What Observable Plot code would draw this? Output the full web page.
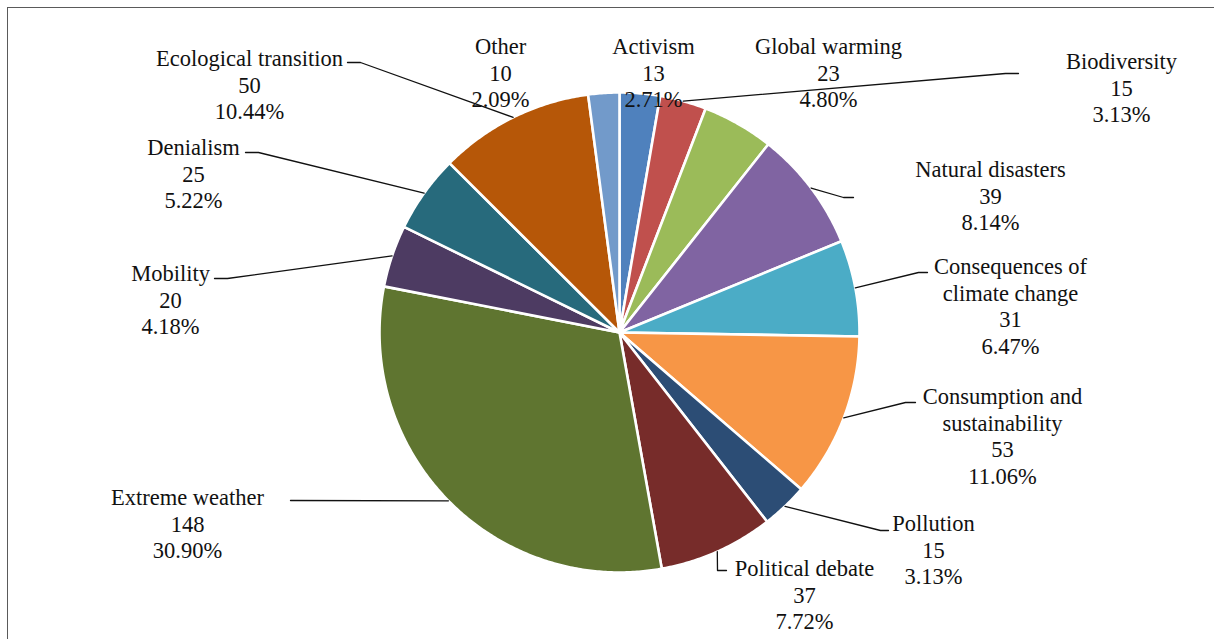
<!DOCTYPE html>
<html><head><meta charset="utf-8">
<script src="https://cdn.jsdelivr.net/npm/d3@7"></script>
<script src="https://cdn.jsdelivr.net/npm/@observablehq/plot@0.6"></script>
<style>
html,body{margin:0;padding:0;background:#fff;overflow:hidden;}
#wrap{position:relative;width:1214px;height:639px;overflow:hidden;}
#border{position:absolute;left:7px;top:7px;width:1240px;height:680px;border:1.5px solid #5a5a5a;pointer-events:none;}
#chart svg text {font-family:"Liberation Serif","Tinos","Noto Serif","FreeSerif","Nimbus Roman","Nimbus Roman No9 L","DejaVu Serif","Times",serif !important;}
</style></head><body>
<div id="wrap"><div id="chart"></div><div id="border"></div></div>
<script>
// ---- data ----
const categories = ["Activism","Biodiversity","Global warming","Natural disasters","Consequences of climate change","Consumption and sustainability","Pollution","Political debate","Extreme weather","Mobility","Denialism","Ecological transition","Other"];
const counts = [13,15,23,39,31,53,15,37,148,20,25,50,10];
const labelNames = ["Activism","Biodiversity","Global warming","Natural disasters","Consequences of\nclimate change","Consumption and\nsustainability","Pollution","Political debate","Extreme weather","Mobility","Denialism","Ecological transition","Other"];
const colors = ["#4F81BD","#C0504D","#9BBB59","#8064A2","#4BACC6","#F79646","#2C4D75","#772C2A","#5F7530","#4D3B62","#276A7C","#B65708","#729ACA"];

// ---- layout (pixel-like plot coordinates) ----
const CX = 619, CY = 332, R = 240;
const FONT = 22.5, LH = 1.18;
// label centre x, first-line centre y, leader-line bend/end points
const labelX = [653, 1121, 828, 990, 1010, 1002, 933, 804, 187, 170, 193, 249, 500];
const labelY = [45, 60, 45, 168, 265, 395, 522, 567, 496, 272, 146, 57, 45];
const leaderPts = [
  null,
  [[1005,73],[1018,73]],
  null,
  [[843,197],[853,197]],
  [[918,272],[927,272]],
  [[905,402],[915,402]],
  [[880,530],[888,530]],
  [[717,570],[726,570]],
  [[290,500]],
  [[227,278],[214,278]],
  [[258,152],[245,152]],
  [[360,62],[347,62]],
  null
];

const total = d3.sum(counts);
const rad = d => d * Math.PI / 180;
const px = a => CX + R * Math.sin(a);
const py = a => CY - R * Math.cos(a);

// slice polygons
const slicePts = [];
let cum = 0;
const mids = [];
categories.forEach((c, i) => {
  const a0 = cum / total * 2 * Math.PI;
  cum += counts[i];
  const a1 = cum / total * 2 * Math.PI;
  mids.push((a0 + a1) / 2);
  const n = Math.max(2, Math.ceil((a1 - a0) / rad(0.5)));
  slicePts.push({cat: c, x: CX, y: CY});
  for (let k = 0; k <= n; k++) {
    const a = a0 + (a1 - a0) * k / n;
    slicePts.push({cat: c, x: px(a), y: py(a)});
  }
  slicePts.push({cat: c, x: CX, y: CY});
});

// leader lines
const leaders = [];
categories.forEach((c, i) => {
  if (!leaderPts[i]) return;
  leaders.push({cat: c, x: px(mids[i]), y: py(mids[i])});
  leaderPts[i].forEach(([x, y]) => leaders.push({cat: c, x, y}));
});

// labels
const labels = categories.map((c, i) => {
  const text = labelNames[i] + "\n" + counts[i] + "\n" + (counts[i] / total * 100).toFixed(2) + "%";
  const n = text.split("\n").length;
  return {cat: c, x: labelX[i], y: labelY[i] + (n - 1) * FONT * LH / 2, text};
});

const chart = Plot.plot({
  width: 1214, height: 639, margin: 0,
  x: {domain: [0, 1214], range: [0, 1214], axis: null},
  y: {domain: [0, 639], range: [0, 639], axis: null},
  color: {domain: categories, range: colors},
  style: {background: "white", overflow: "visible"},
  marks: [
    Plot.line(slicePts, {x: "x", y: "y", z: "cat", fill: "cat", stroke: "white", strokeWidth: 2.6, strokeLinejoin: "round", curve: "linear"}),
    Plot.line(leaders, {x: "x", y: "y", z: "cat", stroke: "#111", strokeWidth: 1.3, curve: "linear"}),
    Plot.text(labels, {x: "x", y: "y", text: "text", fontSize: FONT, lineHeight: LH, fontFamily: "Liberation Serif", fill: "#111", textAnchor: "middle", lineAnchor: "middle"})
  ]
});
document.getElementById("chart").appendChild(chart);
</script>
</body></html>
